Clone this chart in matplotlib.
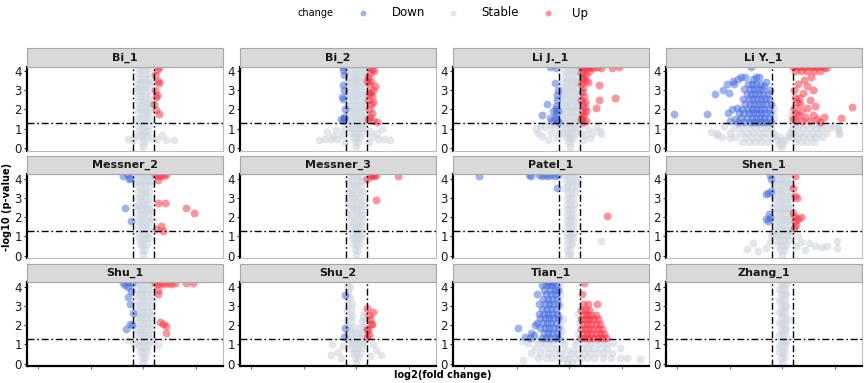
import numpy as np
import matplotlib
matplotlib.use("Agg")
import matplotlib.pyplot as plt

PANELS = ["Bi_1", "Bi_2", "Li J._1", "Li Y._1", "Messner_2", "Messner_3",
          "Patel_1", "Shen_1", "Shu_1", "Shu_2", "Tian_1", "Zhang_1"]
LFC_CUT = 1.0
P_CUT = 1.3
X_TICKS = [-10, -5, 0, 5]
Y_TICKS = [0, 1, 2, 3, 4]
LEGEND_TITLE = "change"
LEGEND_LABELS = ["Down", "Stable", "Up"]

BI_1 = [(0,0.05),(-0.15,0.3),(0.15,0.3),(-0.3,0.6),(0,0.6),(0.3,0.6),(-0.4,0.9),(-0.1,0.9),(0.2,0.9),(0.45,0.9),
(-0.5,1.2),(-0.15,1.2),(0.2,1.2),(0.5,1.2),(-0.55,1.5),(-0.2,1.5),(0.15,1.5),(0.5,1.5),
(-0.5,1.8),(-0.15,1.8),(0.2,1.8),(0.55,1.8),(-0.55,2.1),(-0.2,2.1),(0.15,2.1),(0.5,2.1),
(-0.5,2.4),(-0.15,2.4),(0.2,2.4),(0.55,2.4),(-0.55,2.7),(-0.2,2.7),(0.15,2.7),(0.5,2.7),
(-0.5,3.0),(-0.15,3.0),(0.2,3.0),(0.55,3.0),(-0.55,3.3),(-0.2,3.3),(0.15,3.3),(0.5,3.3),
(-0.5,3.6),(-0.15,3.6),(0.2,3.6),(0.55,3.6),(-0.55,3.9),(-0.2,3.9),(0.15,3.9),(0.5,3.9),
(-0.5,4.2),(-0.15,4.2),(0.2,4.2),(0.55,4.2),(0.75,2.3),(0.8,3.4),(-0.7,3.1),
(-1.45,0.47),(-1.0,0.42),(-0.75,0.6),(0.8,0.5),(1.3,0.47),(1.8,0.65),(2.2,0.42),(2.9,0.42),
(1.5,4.2),(1.3,4.05),(1.1,3.8),(1.4,3.5),(1.45,3.35),(1.1,3.0),(1.3,2.75),(1.25,2.65),(1.05,2.3),(1.2,1.95),(1.45,1.75)]

BI_2 = [(0,0.05),(-0.15,0.3),(0.15,0.3),(-0.35,0.55),(0,0.55),(0.35,0.55),(-0.5,0.8),(-0.15,0.8),(0.2,0.8),(0.55,0.8),
(-0.65,1.05),(-0.3,1.05),(0.05,1.05),(0.4,1.05),(0.7,1.05),(-0.8,1.3),(-0.45,1.3),(-0.1,1.3),(0.25,1.3),(0.6,1.3),(0.85,1.35),
(-0.85,1.6),(-0.5,1.6),(-0.15,1.6),(0.2,1.6),(0.55,1.6),(0.85,1.6),(-0.7,1.9),(-0.35,1.9),(0,1.9),(0.35,1.9),(0.7,1.9),
(-0.85,2.2),(-0.5,2.2),(-0.15,2.2),(0.2,2.2),(0.55,2.2),(0.85,2.2),(-0.7,2.5),(-0.35,2.5),(0,2.5),(0.35,2.5),(0.7,2.5),
(-0.85,2.8),(-0.5,2.8),(-0.15,2.8),(0.2,2.8),(0.55,2.8),(0.85,2.8),(-0.7,3.1),(-0.35,3.1),(0,3.1),(0.35,3.1),(0.7,3.1),
(-0.85,3.4),(-0.5,3.4),(-0.15,3.4),(0.2,3.4),(0.55,3.4),(0.85,3.4),(-0.7,3.7),(-0.35,3.7),(0,3.7),(0.35,3.7),(0.7,3.7),
(-0.85,4.0),(-0.5,4.0),(-0.15,4.0),(0.2,4.0),(0.55,4.0),(0.85,4.0),(-0.7,4.3),(-0.35,4.3),(0,4.3),(0.35,4.3),(0.7,4.3),
(-3.6,0.43),(-3.0,0.45),(-2.8,0.82),(-2.4,0.45),(-2.2,0.6),(-1.9,0.95),(-1.8,0.45),(-1.4,0.7),(-1.2,1.0),(-1.1,0.3),
(1.2,0.3),(1.3,0.9),(1.5,0.6),(1.97,0.8),(2.1,0.47),(2.4,1.0),(2.6,0.47),(3.2,0.43),
(-1.3,4.2),(-1.3,4.05),(-1.2,3.8),(-1.3,3.26),(-1.15,3.0),(-1.4,2.65),(-1.3,2.55),(-1.1,2.0),(-1.2,1.6),(-1.5,1.5),(-1.15,1.55),(-1.3,1.42),
(1.2,4.2),(1.5,4.1),(1.7,4.0),(1.3,3.9),(1.1,3.7),(1.4,3.5),(1.0,3.5),(1.2,3.3),(1.8,3.2),(1.6,3.0),(1.3,2.9),(1.2,2.8),(1.5,2.7),
(1.1,2.5),(1.6,2.4),(1.4,2.3),(1.2,2.0),(1.5,1.8),(1.3,1.6),(1.1,1.5),(1.6,1.4),(1.95,1.34)]

LI_J_1 = [(0.05,0.05),(-0.1,0.3),(0.2,0.3),(-0.3,0.55),(0.05,0.55),(0.4,0.55),(-0.5,0.8),(-0.15,0.8),(0.2,0.8),(0.55,0.8),
(-0.65,1.05),(-0.3,1.05),(0.05,1.05),(0.4,1.05),(0.75,1.05),(-0.8,1.3),(-0.45,1.3),(-0.1,1.3),(0.25,1.3),(0.6,1.3),(0.9,1.3),
(-0.8,1.6),(-0.45,1.6),(-0.1,1.6),(0.25,1.6),(0.6,1.6),(0.9,1.6),(-0.65,1.9),(-0.3,1.9),(0.05,1.9),(0.4,1.9),(0.75,1.9),
(-0.8,2.2),(-0.45,2.2),(-0.1,2.2),(0.25,2.2),(0.6,2.2),(0.9,2.2),(-0.65,2.5),(-0.3,2.5),(0.05,2.5),(0.4,2.5),(0.75,2.5),
(-0.8,2.8),(-0.45,2.8),(-0.1,2.8),(0.25,2.8),(0.6,2.8),(0.9,2.8),(-0.65,3.1),(-0.3,3.1),(0.05,3.1),(0.4,3.1),(0.75,3.1),
(-0.55,3.4),(-0.2,3.4),(0.15,3.4),(0.5,3.4),(0.85,3.4),(-0.4,3.7),(-0.05,3.7),(0.3,3.7),(0.65,3.7),
(-0.5,4.0),(-0.15,4.0),(0.2,4.0),(0.55,4.0),(0.85,4.0),(-0.3,4.3),(0.05,4.3),(0.4,4.3),(0.75,4.3),
(-3.2,1.0),(-3.0,0.8),(-2.8,1.2),(-2.6,0.6),(-2.3,1.1),(-2.0,0.4),(-1.8,1.2),(-1.7,0.8),(-1.4,1.1),(-1.2,0.5),(-1.0,0.8),
(1.1,0.8),(1.2,1.2),(1.3,0.4),(1.5,0.7),(1.8,1.0),(2.0,0.5),(2.2,0.8),(2.5,1.1),(2.9,0.9),(3.0,0.75),
(-1.85,4.2),(-1.25,4.15),(-1.4,3.38),(-1.05,3.0),(-1.15,2.75),(-1.2,2.5),(-2.1,2.3),(-1.3,2.2),(-1.3,2.0),(-1.5,1.9),(-1.1,1.9),
(-1.3,1.75),(-2.55,1.69),(-1.8,1.55),(-1.4,1.55),(-1.2,1.45),(-1.6,1.4),(-1.1,1.35),
(1.1,4.2),(1.4,4.2),(1.7,4.15),(2.0,4.2),(2.3,4.15),(2.6,4.2),(3.0,4.15),(4.1,4.15),(4.7,4.2),(1.3,4.05),(1.9,4.0),(1.1,3.9),
(1.6,3.8),(1.3,3.7),(1.2,3.6),(1.5,3.5),(1.8,3.4),(1.1,3.3),(2.8,3.26),(1.3,3.1),(1.2,2.9),(1.4,2.7),(1.1,2.5),(2.8,2.48),
(1.5,2.4),(1.3,2.3),(1.5,2.1),(2.5,2.06),(1.2,1.9),(1.6,1.9),(1.4,1.7),(1.2,1.6),(1.1,1.5),(1.6,1.4),(1.3,1.35),(4.4,2.6)]

LI_Y_1 = [(-0.1,0.05),(-0.3,0.2),(0.1,0.2),(-0.1,0.35),(-0.5,0.4),(0.3,0.4),(-0.7,0.6),(0.5,0.6),(-0.2,0.55),(-0.9,0.8),(0.7,0.8),
(-1.1,1.0),(0.9,1.0),(-1.3,1.2),(1.1,1.2),(-0.8,1.5),(0.8,1.6),(-0.9,1.8),(0.9,1.9),(-0.85,2.1),
(-3.8,0.3),(-3.2,0.3),(-2.6,0.3),(-2.0,0.3),(-1.4,0.3),(1.2,0.3),(1.8,0.3),(2.4,0.3),(3.0,0.3),
(-4.5,0.55),(-3.5,0.55),(-2.9,0.55),(-2.3,0.55),(-1.7,0.55),(-1.1,0.55),(0.8,0.55),(1.4,0.55),(2.0,0.55),(2.6,0.55),(3.2,0.55),(3.8,0.55),
(-6.2,0.8),(-5.0,0.8),(-4.0,0.8),(-3.4,0.8),(-2.8,0.8),(-2.2,0.8),(-1.6,0.8),(1.0,0.8),(1.6,0.8),(2.2,0.8),(2.8,0.8),(3.4,0.8),(4.2,0.8),(5.4,0.8),
(-4.6,1.05),(-3.8,1.05),(-3.2,1.05),(-2.6,1.05),(-2.0,1.05),(-1.5,1.05),(1.4,1.05),(2.0,1.05),(2.6,1.05),(3.2,1.05),(3.8,1.05),(4.5,1.05),(5.3,1.05),
(-4.2,1.25),(-3.0,1.25),(-2.3,1.25),(1.7,1.25),(2.3,1.25),(3.0,1.25),(3.6,1.25),(4.0,1.25),
(-6.8,0.85),(-6.2,0.67),(-5.7,0.55),(-5.0,0.5),(-5.5,1.15),(4.8,1.2),(5.3,1.0),(5.4,0.75),
(-10.3,1.74),(-7.2,1.77),(-6.4,2.8),(-5.6,3.0),(-5.1,2.85),(-4.7,3.5),(-3.9,3.7),(-3.0,4.2),(-2.5,3.7),(-5.0,1.4),(-5.3,3.3),
(-4.6,3.3),(-4.2,3.6),(-3.5,3.7),(-2.8,3.6),(-2.2,3.7),(-4.3,2.1),(-4.8,2.0),(-5.2,1.8),(-4.5,1.5),(-1.5,3.4),(-1.2,3.0),(-1.7,3.2),
(-4.2,1.35),(-3.6,1.35),(-3.1,1.35),(-2.7,1.35),(-2.3,1.35),(-1.9,1.35),(-1.5,1.35),(-1.1,1.35),
(-3.9,1.55),(-3.4,1.55),(-2.9,1.55),(-2.5,1.55),(-2.1,1.55),(-1.7,1.55),(-1.3,1.55),
(-4.1,1.8),(-3.6,1.8),(-3.2,1.8),(-2.8,1.8),(-2.4,1.8),(-2.0,1.8),(-1.6,1.8),(-1.2,1.8),
(-3.8,2.05),(-3.3,2.05),(-2.9,2.05),(-2.5,2.05),(-2.1,2.05),(-1.7,2.05),(-1.3,2.05),
(-3.5,2.3),(-3.1,2.3),(-2.7,2.3),(-2.3,2.3),(-1.9,2.3),(-1.5,2.3),(-1.1,2.3),
(-3.7,2.55),(-3.2,2.55),(-2.8,2.55),(-2.4,2.55),(-2.0,2.55),(-1.6,2.55),(-1.25,2.55),
(-3.4,2.8),(-3.0,2.8),(-2.6,2.8),(-2.2,2.8),(-1.8,2.8),(-1.4,2.8),
(-3.6,3.05),(-3.1,3.05),(-2.7,3.05),(-2.3,3.05),(-1.9,3.05),(-3.3,3.3),(-2.9,3.3),(-2.5,3.3),(-2.1,3.3),
(1.0,4.2),(1.3,4.25),(1.6,4.2),(1.9,4.25),(2.2,4.2),(2.5,4.25),(2.8,4.2),(3.1,4.25),(3.4,4.2),(3.7,4.25),(4.0,4.2),(4.2,4.15),
(1.2,4.0),(1.8,4.0),(2.4,4.0),(3.0,4.0),(3.6,4.0),
(2.1,3.55),(2.4,3.2),(1.1,3.0),(2.0,2.85),(2.9,3.0),(1.4,2.4),(1.7,2.3),(2.4,2.1),(3.1,2.2),(1.5,1.7),(3.6,1.35),(5.6,1.56),
(6.6,2.15),(1.3,1.4),(2.6,1.4),(1.1,2.1),(1.2,1.8),(1.8,1.9),(2.2,1.6),(1.0,1.5),(1.9,1.4),(2.9,1.7),(1.6,2.6),(1.2,2.6),
(3.3,1.5),(4.0,1.6),(2.6,2.5),(1.5,3.3),(2.7,3.7)]

MESSNER_2 = [(0,0.05),(-0.15,0.3),(0.15,0.3),(-0.3,0.6),(0,0.6),(0.3,0.6),(-0.4,0.9),(-0.1,0.9),(0.2,0.9),(0.5,0.9),
(-0.5,1.2),(-0.15,1.2),(0.2,1.2),(0.55,1.2),(-0.5,1.5),(-0.15,1.5),(0.2,1.5),(0.55,1.5),
(-0.55,1.8),(-0.2,1.8),(0.15,1.8),(0.5,1.8),(0.8,1.9),(-0.6,2.1),(-0.25,2.1),(0.1,2.1),(0.45,2.1),(0.8,2.3),
(-0.55,2.4),(-0.2,2.4),(0.15,2.4),(0.5,2.4),(-0.8,2.6),(-0.5,2.7),(-0.15,2.7),(0.2,2.7),(0.55,2.7),
(-0.55,3.0),(-0.2,3.0),(0.15,3.0),(0.5,3.0),(-0.5,3.3),(-0.15,3.3),(0.2,3.3),(0.55,3.3),
(-0.55,3.6),(-0.2,3.6),(0.15,3.6),(0.5,3.6),(-0.8,3.8),(-0.5,3.9),(-0.15,3.9),(0.2,3.9),(0.55,3.9),(0.85,3.9),
(-0.85,4.2),(-0.5,4.2),(-0.15,4.2),(0.2,4.2),(0.55,4.2),(0.85,4.2),
(-1.9,4.15),(-1.6,4.25),(-1.4,4.0),(-1.25,4.05),(-1.75,2.5),(-1.2,1.8),
(1.1,4.2),(1.4,4.15),(1.7,4.2),(2.0,4.15),(2.2,4.25),(1.4,3.95),(1.4,2.75),(2.1,2.72),(4.05,2.5),(4.85,2.2),(1.7,1.55),(1.2,1.37),(1.9,1.3)]

MESSNER_3 = [(0,0.05),(-0.15,0.3),(0.15,0.3),(-0.3,0.6),(0,0.6),(0.3,0.6),(-0.4,0.9),(-0.1,0.9),(0.2,0.9),(0.45,0.9),
(-0.45,1.2),(-0.1,1.2),(0.25,1.2),(0.5,1.2),(-0.5,1.5),(-0.15,1.5),(0.2,1.5),(0.5,1.5),
(-0.55,1.8),(-0.2,1.8),(0.15,1.8),(0.5,1.8),(-0.75,2.1),(-0.4,2.1),(-0.05,2.1),(0.3,2.1),(0.6,2.1),
(-0.6,2.4),(-0.25,2.4),(0.1,2.4),(0.45,2.4),(0.7,2.6),(-0.75,2.7),(-0.4,2.7),(-0.05,2.7),(0.3,2.7),(0.65,2.9),
(-0.8,3.0),(-0.45,3.0),(-0.1,3.0),(0.25,3.0),(0.6,3.3),(-0.75,3.3),(-0.4,3.3),(-0.05,3.3),(0.3,3.3),
(-0.6,3.6),(-0.25,3.6),(0.1,3.6),(0.45,3.6),(-0.75,3.9),(-0.4,3.9),(-0.05,3.9),(0.3,3.9),(0.6,3.9),
(-0.6,4.2),(-0.25,4.2),(0.1,4.2),(0.45,4.2),
(1.3,4.15),(1.5,4.2),(1.7,4.15),(1.9,4.2),(1.05,4.0),(4.0,4.15),(1.9,2.88)]

PATEL_1 = [(-0.15,0.05),(0.05,0.05),(-0.2,0.3),(0.1,0.3),(-0.25,0.6),(0.05,0.6),(0.3,0.6),(-0.25,0.9),(0.05,0.9),(0.35,0.9),
(-0.25,1.2),(0.05,1.2),(0.35,1.2),(-0.2,1.5),(0.1,1.5),(0.4,1.5),(-0.25,1.8),(0.05,1.8),(0.35,1.8),
(-0.2,2.1),(0.1,2.1),(0.4,2.1),(-0.25,2.4),(0.05,2.4),(0.35,2.4),(-0.2,2.7),(0.1,2.7),(0.45,2.7),
(-0.25,3.0),(0.05,3.0),(0.4,3.0),(-0.2,3.3),(0.15,3.3),(0.5,3.3),(-0.4,3.5),(-0.1,3.6),(0.25,3.6),(0.6,3.6),
(-0.3,3.9),(0.05,3.9),(0.4,3.9),(0.7,3.9),(-0.4,4.2),(-0.05,4.2),(0.3,4.2),(0.65,4.2),(3.0,0.77),
(-8.6,4.15),(-3.85,4.2),(-3.6,4.15),(-2.9,4.2),(-2.6,4.15),(-2.3,4.2),(-2.0,4.15),(-1.7,4.2),(-1.4,4.15),(-1.1,4.2),(-1.2,3.5),
(3.55,2.05)]

SHEN_1 = [(0,0.05),(-0.2,0.3),(0.2,0.3),(-0.4,0.55),(0,0.55),(0.4,0.55),(-0.6,0.8),(-0.2,0.8),(0.2,0.8),(0.6,0.8),
(-0.75,1.05),(-0.4,1.05),(0,1.05),(0.4,1.05),(0.75,1.05),(-0.85,1.3),(-0.5,1.3),(-0.15,1.3),(0.2,1.3),(0.55,1.3),(0.85,1.3),
(-0.7,1.6),(-0.35,1.6),(0,1.6),(0.35,1.6),(0.7,1.6),(-0.85,1.9),(-0.5,1.9),(-0.15,1.9),(0.2,1.9),(0.55,1.9),(0.85,1.9),
(-0.7,2.2),(-0.35,2.2),(0,2.2),(0.35,2.2),(0.7,2.2),(-0.85,2.5),(-0.5,2.5),(-0.15,2.5),(0.2,2.5),(0.55,2.5),(0.85,2.5),
(-0.7,2.8),(-0.35,2.8),(0,2.8),(0.35,2.8),(0.7,2.8),(-0.85,3.1),(-0.5,3.1),(-0.15,3.1),(0.2,3.1),(0.55,3.1),(0.85,3.1),
(-0.7,3.4),(-0.35,3.4),(0,3.4),(0.35,3.4),(0.7,3.4),(-0.85,3.7),(-0.5,3.7),(-0.15,3.7),(0.2,3.7),(0.55,3.7),(0.85,3.7),
(-0.7,4.0),(-0.35,4.0),(0,4.0),(0.35,4.0),(0.7,4.0),(-0.5,4.3),(-0.15,4.3),(0.2,4.3),(0.55,4.3),
(-3.4,0.35),(-2.8,0.65),(-2.3,0.25),(-1.5,0.4),(-1.2,0.7),(-1.1,1.1),(1.3,0.5),(1.5,1.0),(1.8,0.7),(2.2,0.3),(2.5,0.65),
(3.1,0.5),(3.8,0.45),(4.3,0.5),(5.2,0.75),(5.2,0.4),
(-1.2,4.2),(-1.1,4.0),(-1.1,3.35),(-1.4,3.28),(-1.55,3.2),(-1.3,2.14),(-1.15,1.95),(-1.55,1.88),(-1.4,1.8),
(1.2,4.15),(1.0,3.5),(1.25,3.1),(1.4,3.0),(1.05,2.2),(1.2,2.0),(1.75,2.0),(1.5,1.9),(1.25,1.8),(1.3,1.6),(1.1,1.45)]

SHU_1 = [(0,0.05),(-0.15,0.3),(0.15,0.3),(-0.3,0.6),(0,0.6),(0.3,0.6),(-0.45,0.9),(-0.15,0.9),(0.15,0.9),(0.45,0.9),
(-0.55,1.2),(-0.2,1.2),(0.15,1.2),(0.5,1.2),(0.9,1.2),(-0.6,1.5),(-0.25,1.5),(0.1,1.5),(0.45,1.5),(0.75,1.5),
(-0.7,1.8),(-0.35,1.8),(0,1.8),(0.35,1.8),(0.7,1.8),(-0.6,2.1),(-0.25,2.1),(0.1,2.1),(0.45,2.1),(0.8,2.1),
(-0.7,2.4),(-0.35,2.4),(0,2.4),(0.35,2.4),(0.7,2.4),(-0.6,2.7),(-0.25,2.7),(0.1,2.7),(0.45,2.7),(0.8,2.7),
(-0.7,3.0),(-0.35,3.0),(0,3.0),(0.35,3.0),(0.7,3.0),(-0.6,3.3),(-0.25,3.3),(0.1,3.3),(0.45,3.3),(0.8,3.3),
(-0.7,3.6),(-0.35,3.6),(0,3.6),(0.35,3.6),(0.7,3.6),(-0.6,3.9),(-0.25,3.9),(0.1,3.9),(0.45,3.9),(0.8,3.9),
(-0.7,4.2),(-0.35,4.2),(0,4.2),(0.35,4.2),(0.7,4.2),(-1.45,1.23),(1.4,0.95),(-0.9,1.0),
(-1.95,4.2),(-1.7,4.1),(-1.5,4.25),(-1.1,4.2),(-1.5,4.0),(-1.2,3.75),(-1.45,3.45),(-1.3,3.1),(-1.0,2.65),(-1.1,2.0),(-1.3,2.05),(-1.65,1.8),
(1.1,4.2),(1.4,4.15),(1.7,4.2),(2.0,4.15),(2.3,4.2),(2.6,4.15),(3.0,4.2),(4.1,4.2),(4.75,4.2),(1.4,3.85),(1.4,3.6),
(1.55,2.15),(1.9,2.05),(2.2,1.95),(2.15,1.6)]

SHU_2 = [(0,0.05),(-0.15,0.3),(0.15,0.3),(-0.35,0.55),(0,0.55),(0.35,0.55),(-0.5,0.8),(-0.15,0.8),(0.2,0.8),(0.55,0.8),
(-0.65,1.05),(-0.3,1.05),(0.05,1.05),(0.4,1.05),(0.75,1.05),(-0.8,1.3),(-0.45,1.3),(-0.1,1.3),(0.25,1.3),(0.6,1.3),(0.9,1.3),
(-0.85,1.6),(-0.5,1.6),(-0.15,1.6),(0.2,1.6),(0.55,1.6),(0.85,1.6),(-0.7,1.9),(-0.35,1.9),(0.35,1.9),(0.7,1.9),
(-0.85,2.2),(-0.5,2.2),(0.55,2.2),(0.85,2.2),(-0.7,2.5),(-0.4,2.5),(0.6,2.5),(0.85,2.7),(-0.85,2.8),(-0.55,2.8),
(-0.75,3.1),(-0.45,3.1),(-0.85,3.4),(-0.6,3.4),(-0.75,3.7),(-0.85,4.0),(-0.6,4.0),(-0.75,4.3),
(-2.4,0.45),(-2.3,1.03),(-1.7,0.6),(-1.5,0.3),(-1.3,0.9),(1.3,0.4),(1.6,1.0),(1.9,0.7),(2.3,0.45),
(-1.07,3.58),(-1.07,1.83),(-1.2,1.39),
(1.0,2.9),(1.6,2.7),(1.25,2.55),(1.3,2.33),(1.35,2.07),(1.5,2.05),(1.05,1.8),(1.15,1.73),(1.2,1.5),(1.05,1.38)]

TIAN_1 = [(-0.2,0.1),(0.3,0.1),(5.5,0.3),(6.7,0.25),(-4.4,0.2),
(-3.0,0.3),(-2.2,0.3),(-1.6,0.3),(-1.0,0.3),(-0.5,0.3),(0.6,0.3),(1.1,0.3),(1.7,0.3),(2.4,0.3),(3.2,0.3),(4.0,0.3),(4.8,0.3),
(-3.6,0.55),(-2.8,0.55),(-2.0,0.55),(-1.4,0.55),(-0.8,0.55),(0.8,0.55),(1.4,0.55),(2.0,0.55),(2.6,0.55),(3.3,0.55),(4.1,0.55),
(-3.3,0.8),(-2.5,0.8),(-1.8,0.8),(-1.2,0.8),(1.2,0.8),(1.8,0.8),(2.4,0.8),(3.0,0.8),(3.6,0.8),(4.8,0.8),
(-3.9,1.05),(-2.9,1.05),(-2.2,1.05),(-1.5,1.05),(1.5,1.05),(2.1,1.05),(2.8,1.05),(3.5,1.05),(4.2,1.05),
(-4.5,1.2),(-3.2,1.25),(-2.6,1.25),(-1.9,1.25),(1.9,1.25),(2.6,1.25),(3.3,1.25),
(-0.95,1.5),(-0.9,2.0),(-0.95,2.5),(-0.9,3.0),(-0.85,3.6),(-0.6,1.2),(-0.7,1.7),(-0.6,2.3),(0.7,1.2),(0.85,1.6),(0.9,2.1),
(0.8,2.6),(-0.3,0.7),(0.4,0.7),(-0.1,0.3),(0.2,0.5),(-0.95,4.1),(-0.5,1.0),(0.5,1.0),
(-3.7,1.35),(-2.6,1.35),(-2.2,1.35),(-1.8,1.35),(-1.4,1.35),(-1.1,1.35),(-3.6,1.6),(-2.4,1.6),(-2.0,1.6),(-1.6,1.6),(-1.2,1.6),
(-4.9,1.85),(-2.8,1.85),(-2.3,1.85),(-1.9,1.85),(-1.5,1.85),(-1.1,1.85),(-3.1,2.1),(-2.5,2.1),(-2.1,2.1),(-1.7,2.1),(-1.3,2.1),
(-2.8,2.35),(-2.3,2.35),(-1.9,2.35),(-1.5,2.35),(-1.1,2.35),(-2.9,2.6),(-2.4,2.6),(-2.0,2.6),(-1.6,2.6),(-1.2,2.6),
(-2.6,2.85),(-2.1,2.85),(-1.7,2.85),(-1.3,2.85),(-2.9,3.1),(-2.3,3.1),(-1.9,3.1),(-1.5,3.1),(-1.1,3.1),
(-2.5,3.35),(-2.0,3.35),(-1.6,3.35),(-1.2,3.35),(-3.06,3.6),(-2.2,3.6),(-1.7,3.6),(-1.3,3.6),
(-2.4,3.85),(-1.8,3.85),(-1.4,3.85),(-1.1,3.85),(-2.6,4.1),(-2.2,4.1),(-1.9,4.1),(-1.6,4.1),(-1.3,4.1),(-2.0,4.25),(-1.5,4.25),
(-4.2,1.4),(-3.3,2.0),(-3.4,1.5),
(1.1,1.35),(1.5,1.35),(1.9,1.35),(2.3,1.35),(2.7,1.35),(3.1,1.35),(3.5,1.35),(1.3,1.55),(1.7,1.55),(2.1,1.55),(2.5,1.55),(2.9,1.55),(3.3,1.55),
(1.1,1.8),(1.5,1.8),(1.9,1.8),(2.3,1.8),(2.7,1.8),(3.1,1.8),(1.3,2.05),(1.7,2.05),(2.1,2.05),(2.5,2.05),(2.9,2.05),
(1.1,2.3),(1.5,2.3),(1.9,2.3),(2.3,2.3),(2.7,2.3),(1.3,2.55),(1.7,2.55),(2.1,2.55),(2.5,2.55),(1.1,2.8),(1.5,2.8),(1.9,2.8),
(1.3,3.1),(1.8,3.1),(2.65,3.1),(1.2,3.6),(1.4,4.2)]

ZHANG_1 = [(0,0.05),(-0.15,0.3),(0.15,0.3),(-0.3,0.6),(0,0.6),(0.25,0.6),(-0.3,0.9),(0,0.9),(0.3,0.9),(-0.15,1.2),(0.15,1.2),(0.4,1.2),
(-0.3,1.5),(0,1.5),(0.3,1.5),(-0.15,1.8),(0.15,1.8),(0.4,1.8),(-0.3,2.1),(0,2.1),(0.3,2.1),(-0.15,2.4),(0.15,2.4),(0.55,2.3),
(-0.3,2.7),(0,2.7),(0.3,2.7),(-0.15,3.0),(0.15,3.0),(0.4,3.0),(-0.3,3.3),(0,3.3),(0.3,3.3),(-0.15,3.6),(0.15,3.6),(0.4,3.6),
(-0.3,3.9),(0,3.9),(0.3,3.9),(-0.15,4.2),(0.15,4.2),(0.45,4.2)]

PANEL_DATA = [BI_1, BI_2, LI_J_1, LI_Y_1, MESSNER_2, MESSNER_3, PATEL_1, SHEN_1, SHU_1, SHU_2, TIAN_1, ZHANG_1]

COLORS = {"Down": "#4169E1", "Stable": "#ccd4dd", "Up": "#ff2a3c"}
ALPHAS = {"Down": 0.5, "Stable": 0.55, "Up": 0.5}

W, H = 866, 383
fig = plt.figure(figsize=(W / 100, H / 100), dpi=100)
col_left = [26.7, 239.7, 452.6, 665.6]
pw = 196.0
row_top = [66.7, 174.4, 282.4]
ph = 84.0
sh = 18.5
XLIM = (-11.1, 7.55)
YLIM = (-0.14, 4.22)
dash = (0, (5, 2, 1.2, 2))

for i, (name, pts) in enumerate(zip(PANELS, PANEL_DATA)):
    r, c = divmod(i, 4)
    ax = fig.add_axes([col_left[c] / W, 1 - (row_top[r] + ph) / H, pw / W, ph / H])
    arr = np.array(pts, dtype=float)
    x, y = arr[:, 0], arr[:, 1]
    cat = np.where((x >= LFC_CUT) & (y >= P_CUT), "Up",
                   np.where((x <= -LFC_CUT) & (y >= P_CUT), "Down", "Stable"))
    for k in ["Stable", "Down", "Up"]:
        m = cat == k
        ax.scatter(x[m], y[m], s=32, color=COLORS[k], alpha=ALPHAS[k], linewidths=0, zorder=2)
    ax.axvline(-LFC_CUT, color="black", lw=1.0, ls=dash, zorder=3)
    ax.axvline(LFC_CUT, color="black", lw=1.0, ls=dash, zorder=3)
    ax.axhline(P_CUT, color="black", lw=1.0, ls=dash, zorder=3)
    ax.set_xlim(*XLIM)
    ax.set_ylim(*YLIM)
    ax.set_yticks(Y_TICKS)
    ax.set_yticklabels([str(t) for t in Y_TICKS], fontsize=8.5, color="#1a1a1a")
    ax.set_xticks(X_TICKS)
    ax.tick_params(axis="x", labelbottom=False)
    ax.tick_params(axis="y", length=2.5, width=0.8, pad=1, color="#333333")
    for s in ["top", "right", "bottom"]:
        ax.spines[s].set_color("#bdbdbd")
        ax.spines[s].set_linewidth(0.8)
    ax.spines["left"].set_color("black")
    ax.spines["left"].set_linewidth(1.6)
    if r == 2:
        ax.spines["bottom"].set_color("black")
        ax.spines["bottom"].set_linewidth(1.6)
        ax.tick_params(axis="x", length=2.5, width=0.6, color="#555555")
    else:
        ax.tick_params(axis="x", length=0)
    sax = fig.add_axes([col_left[c] / W, 1 - row_top[r] / H, pw / W, sh / H])
    sax.set_facecolor("#d9d9d9")
    sax.set_xticks([])
    sax.set_yticks([])
    for s in sax.spines.values():
        s.set_color("#a8a8a8")
        s.set_linewidth(0.8)
    sax.text(0.5, 0.5, name, transform=sax.transAxes, ha="center", va="center",
             fontsize=8, fontweight="bold", color="#1a1a1a")

fig.text(7 / W, 1 - 207 / H, "-log10 (p-value)", rotation=90, ha="center", va="center",
         fontsize=7, fontweight="bold")
fig.text(443 / W, 1 - 375.5 / H, "log2(fold change)", ha="center", va="center",
         fontsize=7, fontweight="bold")

lax = fig.add_axes([0, 0, 1, 1])
lax.set_xlim(0, W)
lax.set_ylim(H, 0)
lax.axis("off")
lax.text(298, 13, LEGEND_TITLE, ha="left", va="center", fontsize=7)
mk_x = [363, 453, 548]
tx_x = [392, 481, 572]
for lab, mx, tx in zip(LEGEND_LABELS, mk_x, tx_x):
    lax.scatter([mx], [13], s=18, color=COLORS[lab], alpha=ALPHAS[lab], linewidths=0)
    lax.text(tx, 13, lab, ha="left", va="center", fontsize=8.5)

fig.savefig("out.png", dpi=100)
